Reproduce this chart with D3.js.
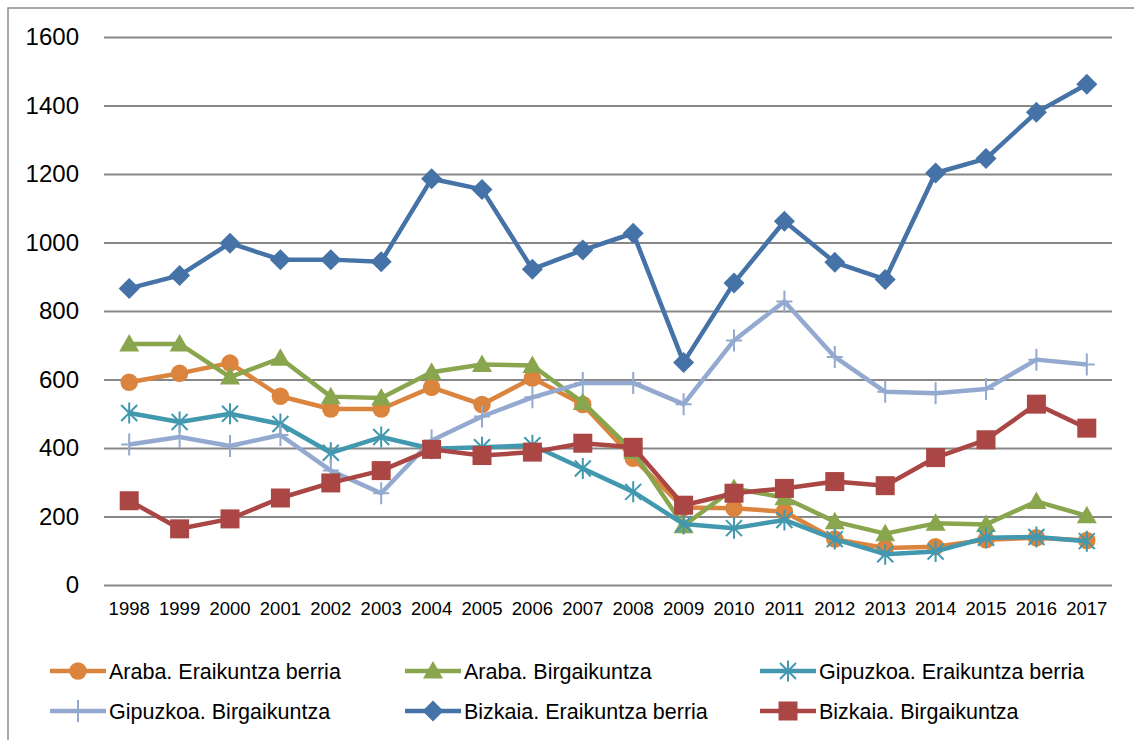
<!DOCTYPE html>
<html>
<head>
<meta charset="utf-8">
<script src="https://cdn.jsdelivr.net/npm/d3@7"></script>
<style>
  body { margin: 0; background: #fff; }
  svg { display: block; font-family: "Liberation Sans", Arial, sans-serif; }
</style>
</head>
<body>
<div id="chart"></div>
<script>
// Data
const years = ["1998","1999","2000","2001","2002","2003","2004","2005","2006","2007",
               "2008","2009","2010","2011","2012","2013","2014","2015","2016","2017"];

const arabaBerria      = [592, 618, 648, 551, 514, 514, 577, 527, 604, 527, 370, 226, 224, 214, 134, 108, 112, 132, 138, 130];
const arabaBirgai      = [704, 704, 607, 662, 550, 546, 621, 644, 641, 533, 390, 173, 282, 255, 185, 150, 180, 177, 244, 202];
const gipuzkoaBerria   = [502, 476, 500, 470, 386, 432, 398, 402, 408, 340, 272, 178, 166, 190, 134, 90, 98, 138, 140, 128];
const gipuzkoaBirgai   = [410, 432, 406, 438, 334, 268, 422, 492, 548, 590, 590, 528, 714, 828, 666, 564, 560, 572, 658, 644];
const bizkaiaBerria    = [866, 904, 998, 950, 950, 944, 1186, 1155, 922, 978, 1027, 650, 882, 1062, 942, 892, 1203, 1245, 1380, 1462];
const bizkaiaBirgai    = [246, 164, 193, 254, 298, 334, 396, 378, 388, 414, 402, 233, 268, 282, 302, 290, 372, 424, 528, 458];

const seriesNames = ["Araba. Eraikuntza berria", "Araba. Birgaikuntza", "Gipuzkoa. Eraikuntza berria",
                     "Gipuzkoa. Birgaikuntza", "Bizkaia. Eraikuntza berria", "Bizkaia. Birgaikuntza"];
const seriesValues = [arabaBerria, arabaBirgai, gipuzkoaBerria, gipuzkoaBirgai, bizkaiaBerria, bizkaiaBirgai];
const seriesColors = ["#DB843D", "#89A54E", "#4198AF", "#93A9CF", "#4572A7", "#AA4643"];
const seriesMarkers = ["circle", "triangle", "asterisk", "plus", "diamond", "square"];
const yTicks = [0, 200, 400, 600, 800, 1000, 1200, 1400, 1600];

const width = 1134, height = 740;
const margin = { top: 37, right: 22, bottom: 155, left: 104 };
const innerWidth = width - margin.left - margin.right;
const innerHeight = height - margin.top - margin.bottom;

const svg = d3.select("#chart").append("svg")
  .attr("width", width)
  .attr("height", height);

// chart frame: only top and left edges are visible in the picture
svg.append("path")
  .attr("d", `M8,${height}V8H${width}`)
  .attr("fill", "none")
  .attr("stroke", "#8c8c8c")
  .attr("stroke-width", 1.5);

const g = svg.append("g").attr("transform", `translate(${margin.left},${margin.top})`);

const x = d3.scaleBand().domain(years).range([0, innerWidth]).padding(0);
const y = d3.scaleLinear().domain([0, 1600]).range([innerHeight, 0]);

// gridlines + y labels
const yAxis = g.append("g")
  .call(d3.axisLeft(y).tickValues(yTicks).tickSize(-innerWidth).tickPadding(25).tickFormat(d3.format("d")));
yAxis.select(".domain").remove();
yAxis.selectAll(".tick line").attr("stroke", "#878787").attr("stroke-width", 2);
yAxis.selectAll(".tick text").attr("font-size", 24).attr("fill", "#000")
  .attr("font-family", "'Liberation Sans', Arial, sans-serif");

// x labels
const xAxis = g.append("g")
  .attr("transform", `translate(0,${innerHeight})`)
  .call(d3.axisBottom(x).tickSize(0).tickPadding(17));
xAxis.select(".domain").remove();
xAxis.selectAll(".tick text").attr("font-size", 18.5).attr("fill", "#000")
  .attr("font-family", "'Liberation Sans', Arial, sans-serif");

// marker shapes
function markerPath(type) {
  switch (type) {
    case "circle": return d3.symbol(d3.symbolCircle, 240)();
    case "triangle": return "M0,-10L10,7.5L-10,7.5Z";
    case "diamond": return "M0,-10.5L10.5,0L0,10.5L-10.5,0Z";
    case "square": return "M-9.5,-9.5H9.5V9.5H-9.5Z";
    case "asterisk": return "M-8,-8L8,8M-8,8L8,-8M0,-10.5V10.5";
    case "plus": return "M0,-11V11M-8,0H8";
  }
}
const strokeMarkers = { asterisk: 2, plus: 2 };

function drawMarker(sel, type, color) {
  sel.append("path")
    .attr("d", markerPath(type))
    .attr("fill", strokeMarkers[type] ? "none" : color)
    .attr("stroke", color)
    .attr("stroke-width", strokeMarkers[type] ? strokeMarkers[type] : 0);
}

const line = d3.line()
  .x((d, i) => x(years[i]) + x.bandwidth() / 2)
  .y(d => y(d));

seriesValues.forEach((vals, s) => {
  const color = seriesColors[s];
  const sg = g.append("g");
  sg.append("path")
    .datum(vals)
    .attr("fill", "none")
    .attr("stroke", color)
    .attr("stroke-width", 4.5)
    .attr("stroke-linejoin", "round")
    .attr("d", line);

  sg.selectAll(".pt")
    .data(vals)
    .enter().append("g")
    .attr("class", "pt")
    .attr("transform", (d, i) => `translate(${x(years[i]) + x.bandwidth() / 2},${y(d)})`)
    .each(function() { drawMarker(d3.select(this), seriesMarkers[s], color); });
});

// legend
const legendCols = [50, 405, 760];
const legendRows = [671, 711];
const legend = svg.append("g");
seriesNames.forEach((name, i) => {
  const lx = legendCols[i % 3];
  const ly = legendRows[Math.floor(i / 3)];
  const item = legend.append("g").attr("transform", `translate(${lx},${ly})`);
  item.append("line")
    .attr("x1", 0).attr("x2", 56)
    .attr("stroke", seriesColors[i]).attr("stroke-width", 4.5);
  const m = item.append("g").attr("transform", "translate(28,0)");
  drawMarker(m, seriesMarkers[i], seriesColors[i]);
  item.append("text")
    .attr("x", 59).attr("dy", "0.35em")
    .attr("font-size", 21.5)
    .attr("fill", "#000")
    .text(name);
});
</script>
</body>
</html>
